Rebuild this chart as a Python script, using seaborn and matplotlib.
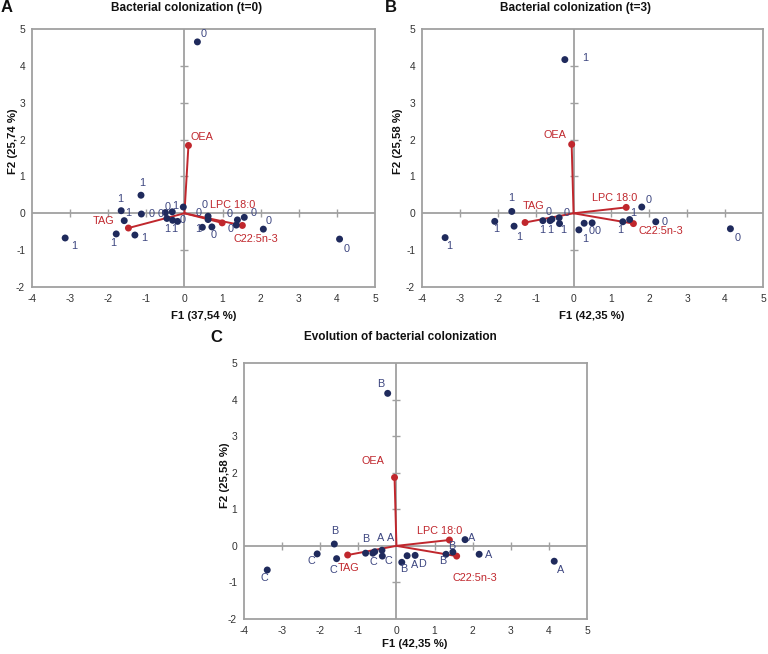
import matplotlib
matplotlib.use("Agg")
import matplotlib.pyplot as plt
import seaborn as sns
import pandas as pd

# ---------------- data ----------------
# Panel A (t=0)
a_x = [0.34, -3.13, -1.66, -1.14, -1.58, -1.79, -1.30, -1.13,
       -0.50, -0.32, -0.46, -0.31, -0.18, -0.03,
       0.62, 0.62, 0.47, 0.72, 1.39, 1.36, 1.57, 2.07, 4.07]
a_y = [4.65, -0.67, 0.07, 0.49, -0.20, -0.56, -0.59, -0.02,
       0.02, 0.04, -0.14, -0.19, -0.22, 0.17,
       -0.08, -0.17, -0.38, -0.37, -0.18, -0.32, -0.11, -0.43, -0.70]
a_lab = ["0", "1", "1", "1", "1", "1", "1", "0",
         "0", "1", "1", "1", "0", "0",
         "0", "0", "1", "0", "0", "0", "0", "0", "0"]
a_vars = ["OEA", "TAG", "LPC 18:0", "C22:5n-3"]
a_vx = [0.105, -1.47, 0.99, 1.52]
a_vy = [1.84, -0.40, -0.26, -0.33]

# Panels B (t=3) and C (evolution) share the same scores
bc_x = [-0.23, -3.39, -1.63, -2.08, -1.57, -0.81, -0.62, -0.57, -0.38,
        -0.37, 0.14, 0.28, 0.49, 1.30, 1.48, 1.80, 2.17, 4.14]
bc_y = [4.17, -0.66, 0.05, -0.22, -0.35, -0.20, -0.20, -0.16, -0.12,
        -0.28, -0.45, -0.27, -0.26, -0.23, -0.17, 0.17, -0.23, -0.42]
b_lab = ["1", "1", "1", "1", "1", "1", "1", "0", "0",
         "1", "1", "0", "0", "1", "1", "0", "0", "0"]
c_lab = ["B", "C", "B", "C", "C", "B", "C", "A", "A",
         "C", "B", "A", "D", "B", "B", "A", "A", "A"]
bc_vars = ["OEA", "TAG", "LPC 18:0", "C22:5n-3"]
bc_vx = [-0.05, -1.28, 1.39, 1.58]
bc_vy = [1.87, -0.25, 0.16, -0.28]

x_ticks = [-4, -3, -2, -1, 0, 1, 2, 3, 4, 5]
y_ticks = [-2, -1, 0, 1, 2, 3, 4, 5]

# ---------------- label placement (pixel offsets) ----------------
a_off = [(6, 8), (9, -8), (-1, 12), (1, 12), (4, 8), (-3, -9), (9, -3), (10, 0),
         (2, 6), (3, 6), (0, -11), (2, -9), (5, 1), (-23, -7),
         (-3, 11), (-9, 7), (-4, -2), (2, -8), (-8, 6), (-6, -4), (9, 4), (5, 8), (7, -10)]
b_off = [(20, 2), (4, -8), (-1, 13), (1, -8), (5, -11), (-1, -9), (0, -9), (-3, 7), (7, 5),
         (4, -6), (6, -9), (7, -8), (6, -8), (-3, -8), (4, 7), (7, 7), (9, 0), (7, -9)]
c_off = [(-7, 9), (-3, -8), (0, 13), (-6, -7), (-3, -11), (0, 14), (1, -9), (6, 14), (9, 12),
         (6, -5), (2, -7), (7, -9), (7, -9), (-3, -7), (-1, 6), (7, 2), (9, -1), (6, -9)]
a_voff = [(13, 8), (-25, 7), (10, 18), (14, -14)]
b_voff = [(-17, 9), (9, 17), (-12, 9), (27, -7)]
c_voff = [(-22, 16), (1, -13), (-10, 9), (18, -22)]

NAVY = "#1f2a5c"
LABC = "#3d4680"
RED = "#c0272d"
GRAY = "#a0a0a0"

sns.set_theme(style="white")
plt.rcParams["font.family"] = ["Liberation Sans", "DejaVu Sans"]
plt.rcParams["axes.unicode_minus"] = False

W, H = 768, 654
fig = plt.figure(figsize=(W / 100, H / 100), dpi=100)


def make_axes(left, top, right, bottom):
    return fig.add_axes([left / W, 1 - bottom / H, (right - left) / W, (bottom - top) / H])


def panel(ax, xs, ys, labs, offs, vnames, vx, vy, voffs):
    ax.set_xlim(-4, 5)
    ax.set_ylim(-2, 5)
    ax.set_xticks(x_ticks)
    ax.set_yticks(y_ticks)
    ax.tick_params(length=0, labelsize=7.4, colors="#333333", pad=5)
    for s in ax.spines.values():
        s.set_color(GRAY)
        s.set_linewidth(1.3)
    # centre axes
    ax.axhline(0, color=GRAY, lw=1.3, zorder=1)
    ax.axvline(0, color=GRAY, lw=1.3, zorder=1)
    xt = [t for t in x_ticks if t not in (0, -4, 5)]
    yt = [t for t in y_ticks if t not in (0, -2, 5)]
    ax.plot(xt, [0] * len(xt), ls="none", marker="|", ms=6, mew=1.0, color=GRAY, zorder=1)
    ax.plot([0] * len(yt), yt, ls="none", marker="_", ms=6, mew=1.0, color=GRAY, zorder=1)
    # vectors
    for vxx, vyy in zip(vx, vy):
        ax.plot([0, vxx], [0, vyy], color=RED, lw=1.4, zorder=2)
    vdf = pd.DataFrame({"x": vx, "y": vy})
    sns.scatterplot(data=vdf, x="x", y="y", ax=ax, color=RED, s=25, edgecolor="none", zorder=3)
    for n, vxx, vyy, o in zip(vnames, vx, vy, voffs):
        ax.annotate(n, (vxx, vyy), xytext=o, textcoords="offset pixels",
                    ha="center", va="center", fontsize=7.8, color=RED, zorder=5)
    # observations
    df = pd.DataFrame({"x": xs, "y": ys})
    sns.scatterplot(data=df, x="x", y="y", ax=ax, color=NAVY, s=25, edgecolor="none", zorder=4)
    for lab, xx, yy, o in zip(labs, xs, ys, offs):
        ax.annotate(lab, (xx, yy), xytext=o, textcoords="offset pixels",
                    ha="center", va="center", fontsize=7.8, color=LABC, zorder=5)
    ax.set_xlabel("")
    ax.set_ylabel("")


axA = make_axes(32, 29, 375, 287)
panel(axA, a_x, a_y, a_lab, a_off, a_vars, a_vx, a_vy, a_voff)
axB = make_axes(422, 29, 763, 287)
panel(axB, bc_x, bc_y, b_lab, b_off, bc_vars, bc_vx, bc_vy, b_voff)
axC = make_axes(244, 363, 587, 619)
panel(axC, bc_x, bc_y, c_lab, c_off, bc_vars, bc_vx, bc_vy, c_voff)


def ftext(x, y, s, **kw):
    fig.text(x / W, 1 - y / H, s, **kw)


bold = dict(fontweight="bold", color="#111111", ha="center", va="center")
ftext(7, 8, "A", fontsize=12, **bold)
ftext(391, 8, "B", fontsize=12, **bold)
ftext(216, 337, "C", fontsize=12, **bold)
ftext(187, 8, "Bacterial colonization (t=0)", fontsize=8.5, **bold)
ftext(576, 8, "Bacterial colonization (t=3)", fontsize=8.5, **bold)
ftext(400, 337, "Evolution of bacterial colonization", fontsize=8.5, **bold)
ftext(204, 316, "F1 (37,54 %)", fontsize=8.2, **bold)
ftext(592, 316, "F1 (42,35 %)", fontsize=8.2, **bold)
ftext(415, 644, "F1 (42,35 %)", fontsize=8.2, **bold)
ftext(13, 141, "F2 (25,74 %)", fontsize=8.2, rotation=90, **bold)
ftext(398, 141, "F2 (25,58 %)", fontsize=8.2, rotation=90, **bold)
ftext(225, 475, "F2 (25,58 %)", fontsize=8.2, rotation=90, **bold)

fig.savefig("out.png", dpi=100)
